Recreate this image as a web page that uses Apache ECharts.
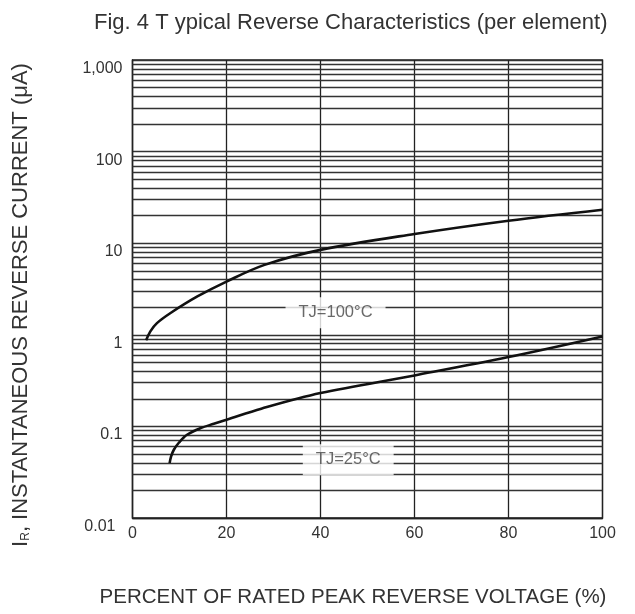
<!DOCTYPE html>
<html>
<head>
<meta charset="utf-8">
<script src="https://cdn.jsdelivr.net/npm/echarts@6/dist/echarts.min.js"></script>
<style>
  html, body { margin: 0; padding: 0; background: #fff; }
  #chart { width: 635px; height: 614px; }
</style>
</head>
<body>
<div id="chart"></div>
<script>
// curve at TJ=100°C
const pctHot = [2.9, 3.8, 5.2, 8.1, 13.8, 20, 28.1, 40, 60, 80, 100];
const irHot = [0.87, 1.09, 1.34, 1.73, 2.62, 3.81, 5.8, 8.46, 12.6, 17.6, 23.2];
// curve at TJ=25°C
const pctCold = [7.9, 8.2, 8.8, 9.9, 11.6, 14.5, 17.3, 20, 27.4, 40, 60, 80, 100];
const irCold = [0.0397, 0.0469, 0.0556, 0.0667, 0.081, 0.0958, 0.1067, 0.118, 0.156, 0.231, 0.36, 0.571, 0.958];

const xTicks = [0, 20, 40, 60, 80, 100];
const decades = [0.01, 0.1, 1, 10, 100, 1000];
const minorSteps = [2, 3, 4, 5, 6, 7, 8, 9];

// minor horizontal grid lines 2..9 in every decade
var minorLines = [];
decades.slice(0, -1).forEach(function (d) {
  minorSteps.forEach(function (k) {
    minorLines.push({ yAxis: +(d * k).toPrecision(3) });
  });
});

var font = 'Liberation Sans, Arial, sans-serif';
var textColor = '#333';

var myChart = echarts.init(document.getElementById('chart'));
myChart.setOption({
  animation: false,
  title: {
    text: 'Fig. 4 T ypical Reverse Characteristics (per element)',
    left: 89,
    top: 7,
    textStyle: { fontSize: 22, fontWeight: 'normal', color: textColor, fontFamily: font }
  },
  grid: {
    left: 132.5,
    right: 32.5,
    top: 60,
    bottom: 96,
    show: true,
    borderColor: '#222',
    borderWidth: 1.3
  },
  xAxis: {
    type: 'value',
    min: 0,
    max: 100,
    interval: 20,
    axisLine: { show: true, lineStyle: { color: '#222', width: 1.3 } },
    axisTick: { show: false },
    splitLine: { show: true, lineStyle: { color: '#222', width: 1.3 } },
    axisLabel: {
      margin: 7,
      fontSize: 16,
      lineHeight: 17,
      color: textColor,
      fontFamily: font,
      formatter: function (v) { return xTicks.indexOf(v) >= 0 ? String(v) : ''; }
    }
  },
  yAxis: {
    type: 'log',
    logBase: 10,
    min: decades[0],
    max: decades[decades.length - 1],
    axisLine: { show: true, lineStyle: { color: '#222', width: 1.3 } },
    axisTick: { show: false },
    splitLine: { show: true, lineStyle: { color: '#333', width: 1.3 } },
    axisLabel: {
      margin: 10,
      fontSize: 16,
      lineHeight: 17,
      verticalAlign: 'top',
      color: textColor,
      fontFamily: font,
      formatter: function (v) {
        if (v >= 999) return '1,000';
        if (v < 0.02) return '{s|0.01}';
        return String(+v.toPrecision(2));
      },
      rich: {
        s: { fontSize: 16, lineHeight: 17, color: textColor, fontFamily: font, padding: [0, 7, 0, 0] }
      }
    }
  },
  graphic: [
    {
      type: 'text',
      x: 21,
      y: 305,
      rotation: Math.PI / 2,
      style: {
        text: '{i|I}{r|R}{i|, INSTANTANEOUS REVERSE CURRENT (\u03bcA)}',
        align: 'center',
        verticalAlign: 'middle',
        rich: {
          i: { fontSize: 22, fill: textColor, fontFamily: font },
          r: { fontSize: 12, fill: textColor, fontFamily: font, verticalAlign: 'bottom', padding: [10, 0, 0, 0] }
        }
      }
    },
    {
      type: 'text',
      x: 353,
      y: 597,
      style: {
        text: 'PERCENT OF RATED PEAK REVERSE VOLTAGE (%)',
        align: 'center',
        verticalAlign: 'middle',
        fontSize: 20.5,
        fill: textColor,
        fontFamily: font
      }
    }
  ],
  series: [
    {
      name: 'grid',
      type: 'line',
      data: [],
      silent: true,
      markLine: {
        silent: true,
        symbol: ['none', 'none'],
        label: { show: false },
        lineStyle: { color: '#333', width: 1.3, type: 'solid' },
        data: minorLines
      }
    },
    {
      name: 'TJ=100°C',
      type: 'line',
      data: pctHot.map(function (x, i) { return [x, irHot[i]]; }),
      smooth: 0.35,
      showSymbol: false,
      lineStyle: { color: '#111', width: 2.6 },
      z: 5
    },
    {
      name: 'TJ=25°C',
      type: 'line',
      data: pctCold.map(function (x, i) { return [x, irCold[i]]; }),
      smooth: 0.35,
      showSymbol: false,
      lineStyle: { color: '#111', width: 2.6 },
      z: 5
    },
    {
      name: 'labels',
      type: 'scatter',
      symbolSize: 0,
      silent: true,
      z: 6,
      data: [
        { value: [43.2, 1.74], label: { formatter: 'TJ=100\u00b0C' } },
        { value: [45.9, 0.0432], label: { formatter: 'TJ=25\u00b0C' } }
      ],
      label: {
        show: true,
        position: 'inside',
        fontSize: 16.5,
        color: '#444',
        fontFamily: font,
        backgroundColor: '#fff',
        padding: [7, 13]
      }
    }
  ]
});
</script>
</body>
</html>
